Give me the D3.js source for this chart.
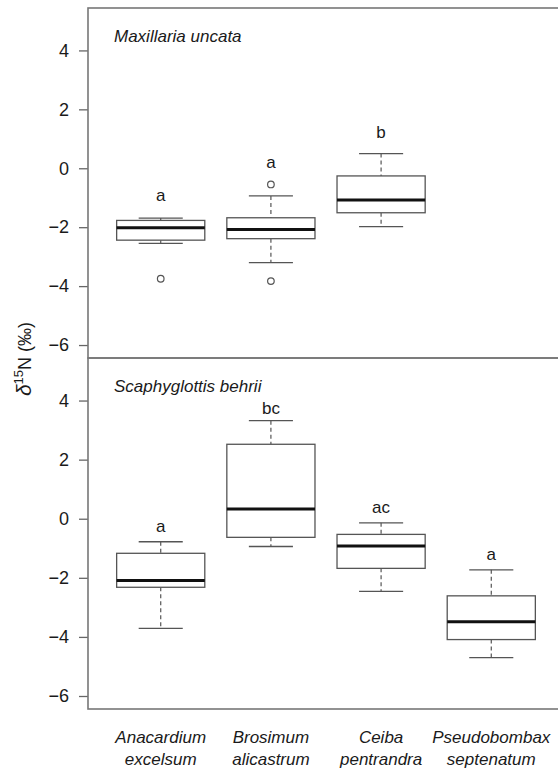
<!DOCTYPE html>
<html>
<head>
<meta charset="utf-8">
<script src="https://cdn.jsdelivr.net/npm/d3@7"></script>
<style>
  body { margin: 0; background: #fff; }
  svg { display: block; }
  text { font-family: "Liberation Sans", Arial, sans-serif; fill: #1a1a1a; }
</style>
</head>
<body>
<svg id="chart" width="558" height="769"></svg>
<script>
// Host tree species (x categories), two-line labels
const hosts = ["Anacardium excelsum", "Brosimum alicastrum", "Ceiba pentrandra", "Pseudobombax septenatum"];
const hostLine1 = ["Anacardium", "Brosimum", "Ceiba", "Pseudobombax"];
const hostLine2 = ["excelsum", "alicastrum", "pentrandra", "septenatum"];

// Orchid species shown in each panel
const panels = ["Maxillaria uncata", "Scaphyglottis behrii"];

// Box statistics for Maxillaria uncata (host positions 1..3)
const maxPos      = [1, 2, 3];
const maxLow      = [-2.55, -3.20, -1.98];
const maxQ1       = [-2.44, -2.39, -1.51];
const maxMedian   = [-2.02, -2.08, -1.08];
const maxQ3       = [-1.77, -1.68, -0.26];
const maxHigh     = [-1.69, -0.94, 0.50];
const maxOutliers = [[-3.75], [-0.55, -3.83], []];
const maxLetters  = ["a", "a", "b"];
const maxLetterY  = [-1.12, 0.00, 1.03];

// Box statistics for Scaphyglottis behrii (host positions 1..4)
const schPos      = [1, 2, 3, 4];
const schLow      = [-3.71, -0.94, -2.46, -4.70];
const schQ1       = [-2.32, -0.63, -1.68, -4.09];
const schMedian   = [-2.09, 0.33, -0.92, -3.49];
const schQ3       = [-1.17, 2.52, -0.53, -2.61];
const schHigh     = [-0.78, 3.32, -0.14, -1.73];
const schOutliers = [[], [], [], []];
const schLetters  = ["a", "bc", "ac", "a"];
const schLetterY  = [-0.46, 3.55, 0.19, -1.40];

// Axis ticks
const yTicks = [-6, -4, -2, 0, 2, 4];

const svg = d3.select("#chart");

const left = 88, right = 564;
const panelBounds = [[8, 358], [358, 709]];
const yDomain = [-6.44, 5.44];
const x = d3.scaleLinear().domain([0.34, 4.66]).range([left, right]);
const boxW = x(1.4) - x(1.0);   // half-width of a box (0.4 units)
const capW = boxW / 2;

const panelData = [
  { name: panels[0], pos: maxPos, low: maxLow, q1: maxQ1, med: maxMedian, q3: maxQ3, high: maxHigh,
    out: maxOutliers, letters: maxLetters, letterY: maxLetterY },
  { name: panels[1], pos: schPos, low: schLow, q1: schQ1, med: schMedian, q3: schQ3, high: schHigh,
    out: schOutliers, letters: schLetters, letterY: schLetterY }
];

const boxStroke = "#555";

panelData.forEach((p, pi) => {
  const [top, bottom] = panelBounds[pi];
  const y = d3.scaleLinear().domain(yDomain).range([bottom, top]);
  const g = svg.append("g");

  // y axis
  const axis = d3.axisLeft(y).tickValues(yTicks).tickSize(9).tickPadding(10)
    .tickFormat(d3.format("d"));
  const ag = g.append("g").attr("transform", `translate(${left},0)`).call(axis);
  ag.select(".domain").remove();
  ag.selectAll(".tick line").attr("stroke", "#666").attr("stroke-width", 1.3);
  ag.selectAll(".tick text").attr("font-size", 18).attr("fill", "#1a1a1a")
    .style("font-family", "'Liberation Sans', Arial, sans-serif");

  // panel frame
  g.append("rect").attr("x", left).attr("y", top)
    .attr("width", right - left).attr("height", bottom - top)
    .attr("fill", "none").attr("stroke", "#777").attr("stroke-width", 1.6);

  // panel title
  g.append("text").attr("x", left + 26).attr("y", top + 34)
    .attr("font-size", 17).attr("font-style", "italic").text(p.name);

  const idx = d3.range(p.pos.length);

  idx.forEach(i => {
    const cx = x(p.pos[i]);
    // whiskers (dashed)
    g.append("line").attr("x1", cx).attr("x2", cx).attr("y1", y(p.high[i])).attr("y2", y(p.q3[i]))
      .attr("stroke", boxStroke).attr("stroke-width", 1.2).attr("stroke-dasharray", "4,3");
    g.append("line").attr("x1", cx).attr("x2", cx).attr("y1", y(p.q1[i])).attr("y2", y(p.low[i]))
      .attr("stroke", boxStroke).attr("stroke-width", 1.2).attr("stroke-dasharray", "4,3");
    // staples
    [p.high[i], p.low[i]].forEach(v => {
      g.append("line").attr("x1", cx - capW).attr("x2", cx + capW).attr("y1", y(v)).attr("y2", y(v))
        .attr("stroke", boxStroke).attr("stroke-width", 1.3);
    });
    // box
    g.append("rect").attr("x", cx - boxW).attr("width", 2 * boxW)
      .attr("y", y(p.q3[i])).attr("height", y(p.q1[i]) - y(p.q3[i]))
      .attr("fill", "#fff").attr("stroke", boxStroke).attr("stroke-width", 1.3);
    // median
    g.append("line").attr("x1", cx - boxW).attr("x2", cx + boxW)
      .attr("y1", y(p.med[i])).attr("y2", y(p.med[i]))
      .attr("stroke", "#111").attr("stroke-width", 3);
    // outliers
    p.out[i].forEach(v => {
      g.append("circle").attr("cx", cx).attr("cy", y(v)).attr("r", 3.3)
        .attr("fill", "none").attr("stroke", boxStroke).attr("stroke-width", 1.2);
    });
    // significance letters
    g.append("text").attr("x", cx).attr("y", y(p.letterY[i]))
      .attr("text-anchor", "middle").attr("font-size", 17).text(p.letters[i]);
  });
});

// x category labels (two lines, italic)
hosts.forEach((h, i) => {
  const cx = x(i + 1);
  svg.append("text").attr("x", cx).attr("y", 743).attr("text-anchor", "middle")
    .attr("font-size", 17).attr("font-style", "italic").text(hostLine1[i]);
  svg.append("text").attr("x", cx).attr("y", 765).attr("text-anchor", "middle")
    .attr("font-size", 17).attr("font-style", "italic").text(hostLine2[i]);
});

// y axis title: δ15N (‰)
const yt = svg.append("text")
  .attr("transform", "translate(31,359) rotate(-90)")
  .attr("text-anchor", "middle").attr("font-size", 18);
yt.append("tspan").attr("font-style", "italic").attr("font-size", 21).text("δ");
yt.append("tspan").attr("font-size", 13).attr("dy", -8).text("15");
yt.append("tspan").attr("dy", 8).text("N (‰)");
</script>
</body>
</html>
